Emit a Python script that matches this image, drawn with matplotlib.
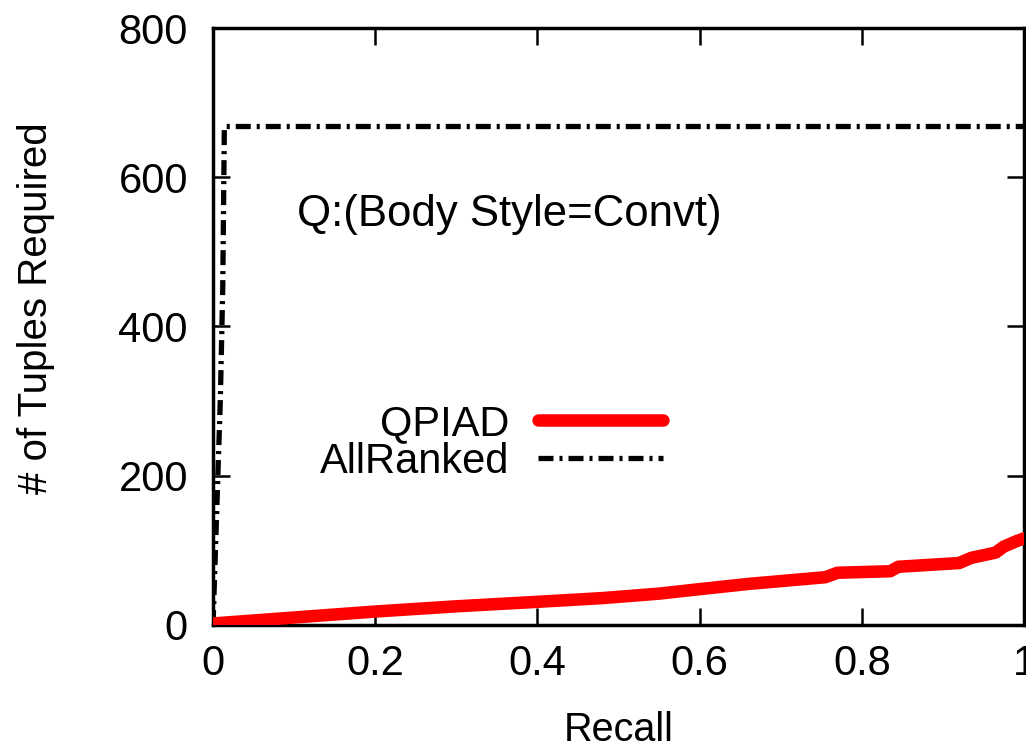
import matplotlib
matplotlib.use("Agg")
import matplotlib.pyplot as plt

plt.rcParams['font.family'] = ['Liberation Sans', 'DejaVu Sans']
plt.rcParams['lines.scale_dashes'] = False

# QPIAD curve (recall vs tuples required)
qpiad_recall = [0, 0.1, 0.2, 0.3, 0.4, 0.48, 0.55, 0.6, 0.66, 0.755, 0.77,
                0.835, 0.845, 0.92, 0.935, 0.965, 0.975, 0.99, 1.0]
qpiad_tuples = [2, 10, 18, 25, 31, 36, 42, 48, 55, 64, 70,
                72, 78, 83, 90, 97, 105, 112, 116]

# AllRanked curve
allranked_recall = [0, 0.003, 0.006, 0.009, 0.012, 0.014, 1.0]
allranked_tuples = [0, 100, 200, 300, 450, 668, 668]

xticks = [0, 0.2, 0.4, 0.6, 0.8, 1]
xticklabels = ['0', '0.2', '0.4', '0.6', '0.8', '1']
yticks = [0, 200, 400, 600, 800]

fig = plt.figure(figsize=(10.26, 7.49), dpi=100)
ax = fig.add_axes([0.2076, 0.1656, 0.7905, 0.797])

ax.plot(allranked_recall, allranked_tuples, color='black', lw=3.8,
        dashes=(10.8, 4.3, 2.2, 4.3), solid_capstyle='butt',
        dash_capstyle='butt', label='AllRanked', zorder=2)
ax.plot(qpiad_recall, qpiad_tuples, color='#ff0000', lw=9,
        solid_capstyle='round', label='QPIAD', zorder=3)

ax.set_xlim(0, 1)
ax.set_ylim(0, 800)
ax.set_xticks(xticks)
ax.set_xticklabels(xticklabels)
ax.set_yticks(yticks)

for s in ax.spines.values():
    s.set_linewidth(2.5)
ax.tick_params(direction='in', length=12, width=1.8, labelsize=30,
               top=True, right=True)
ax.tick_params(axis='x', pad=14)
ax.tick_params(axis='y', pad=18)

ax.set_xlabel('Recall', fontsize=28.5, labelpad=19)
ax.set_ylabel('# of Tuples Required', fontsize=29)
ax.yaxis.set_label_coords(-0.195, 0.53)

ax.text(0.104, 550, 'Q:(Body Style=Convt)', fontsize=31.5, va='center', ha='left')

handles, labels = ax.get_legend_handles_labels()
leg = ax.legend(handles[::-1], labels[::-1], loc='center right',
                bbox_to_anchor=(0.555, 0.305), frameon=False, fontsize=30,
                markerfirst=False, handlelength=3.0, handletextpad=0.7,
                labelspacing=-0.05, borderpad=0, borderaxespad=0)

fig.savefig('out.png', dpi=100)
